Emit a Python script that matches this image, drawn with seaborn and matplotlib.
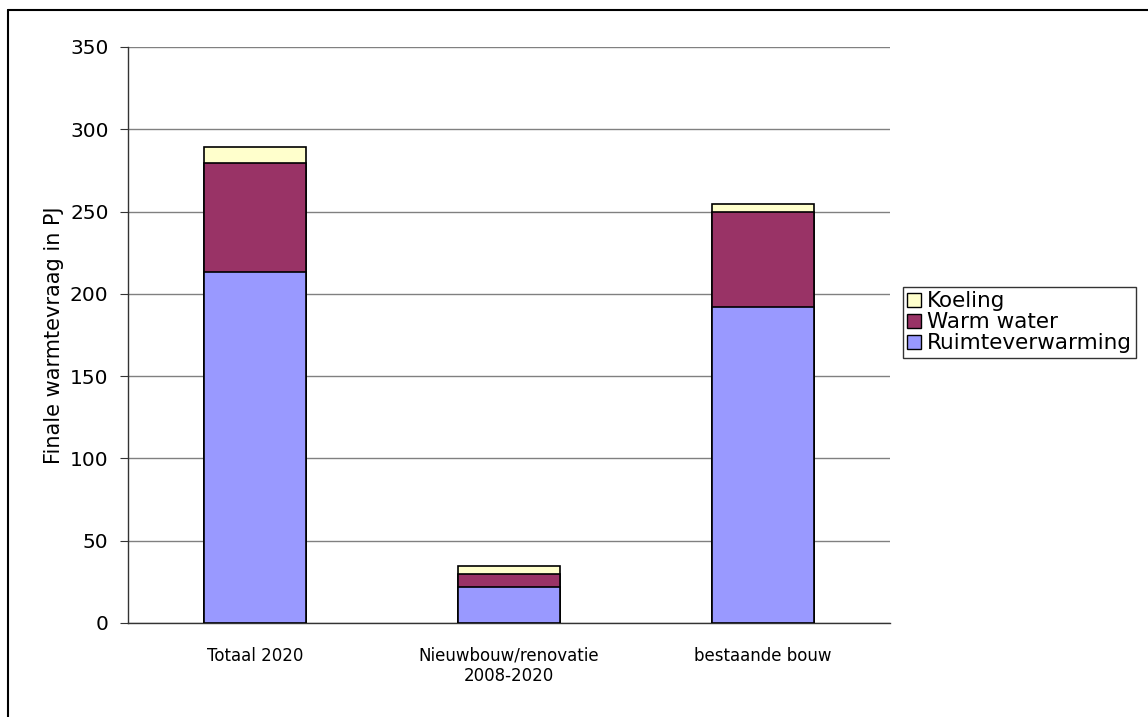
import matplotlib
matplotlib.use("Agg")
import matplotlib.pyplot as plt
from matplotlib import font_manager
from matplotlib.patches import Patch
from matplotlib.lines import Line2D
import numpy as np
import pandas as pd
import seaborn as sns

# waarden (PJ)
categories = ["Totaal 2020", "Nieuwbouw/renovatie\n2008-2020", "bestaande bouw"]
ruimteverwarming = [213.5, 22.0, 192.0]
warm_water = [66.0, 7.6, 58.0]
koeling = [9.5, 5.0, 4.6]

series = ["Ruimteverwarming", "Warm water", "Koeling"]
colors = {"Ruimteverwarming": "#9999FF", "Warm water": "#993366", "Koeling": "#FFFFCC"}

sns.set_style("white")
plt.rcParams["font.family"] = ["DejaVu Sans"]

# smallere letter voor de categorielabels, als die er is
names = {f.name for f in font_manager.fontManager.ttflist}
if "Liberation Sans Narrow" in names:
    cat_font, cat_size = "Liberation Sans Narrow", 14
else:
    cat_font, cat_size = "DejaVu Sans", 12

fig = plt.figure(figsize=(11.48, 7.17), dpi=100)
ax = fig.add_axes([128 / 1148, 94 / 717, 762 / 1148, 576 / 717])

# gestapelde balken: cumulatieve totalen van achter naar voren tekenen
layers = np.array([ruimteverwarming, warm_water, koeling])
cum = layers.cumsum(axis=0)
for i in reversed(range(len(series))):
    df = pd.DataFrame({"cat": categories, "val": cum[i]})
    sns.barplot(data=df, x="cat", y="val", order=categories, color=colors[series[i]],
                saturation=1, width=0.4, edgecolor="black", linewidth=1.2, ax=ax, zorder=3)

ax.set_xlim(-0.5, 2.5)
ax.set_ylim(0, 350)
ax.set_yticks(np.arange(0, 351, 50))
ax.yaxis.grid(True, color="#808080", linewidth=1)
ax.set_axisbelow(True)
for s in ["top", "right"]:
    ax.spines[s].set_visible(False)
for s in ["left", "bottom"]:
    ax.spines[s].set_color("#333333")
    ax.spines[s].set_linewidth(1)

ax.set_xticks([-0.5, 0.5, 1.5, 2.5], minor=True)
ax.tick_params(axis="x", which="minor", length=8, color="#333333", direction="out")
ax.tick_params(axis="x", which="major", length=0, pad=17)
for lab in ax.get_xticklabels():
    lab.set_fontfamily(cat_font)
    lab.set_fontsize(cat_size)
    lab.set_color("black")
ax.tick_params(axis="y", length=6, color="#333333", direction="out", labelsize=14.5,
               labelcolor="black", pad=8, left=True)
ax.set_xlabel("")
ax.set_ylabel("Finale warmtevraag in PJ", fontsize=15, labelpad=4, color="black")

handles = [Patch(facecolor=colors[s], edgecolor="black", linewidth=1) for s in reversed(series)]
leg = fig.legend(handles, list(reversed(series)), loc="upper left",
                 bbox_to_anchor=(903 / 1148, (717 - 287) / 717), frameon=True,
                 fancybox=False, edgecolor="black", fontsize=15.5, handlelength=0.65,
                 handleheight=0.65, handletextpad=0.25, borderpad=0.2, labelspacing=0.05,
                 borderaxespad=0)
leg.get_frame().set_linewidth(1)
for t in leg.get_texts():
    t.set_color("black")

# rand om de figuur (links en boven zichtbaar)
fig.add_artist(Line2D([8 / 1148, 8 / 1148], [0, (717 - 10) / 717], transform=fig.transFigure,
                      color="black", linewidth=1.5))
fig.add_artist(Line2D([8 / 1148, 1], [(717 - 10) / 717, (717 - 10) / 717], transform=fig.transFigure,
                      color="black", linewidth=1.5))

fig.savefig("out.png", dpi=100)
